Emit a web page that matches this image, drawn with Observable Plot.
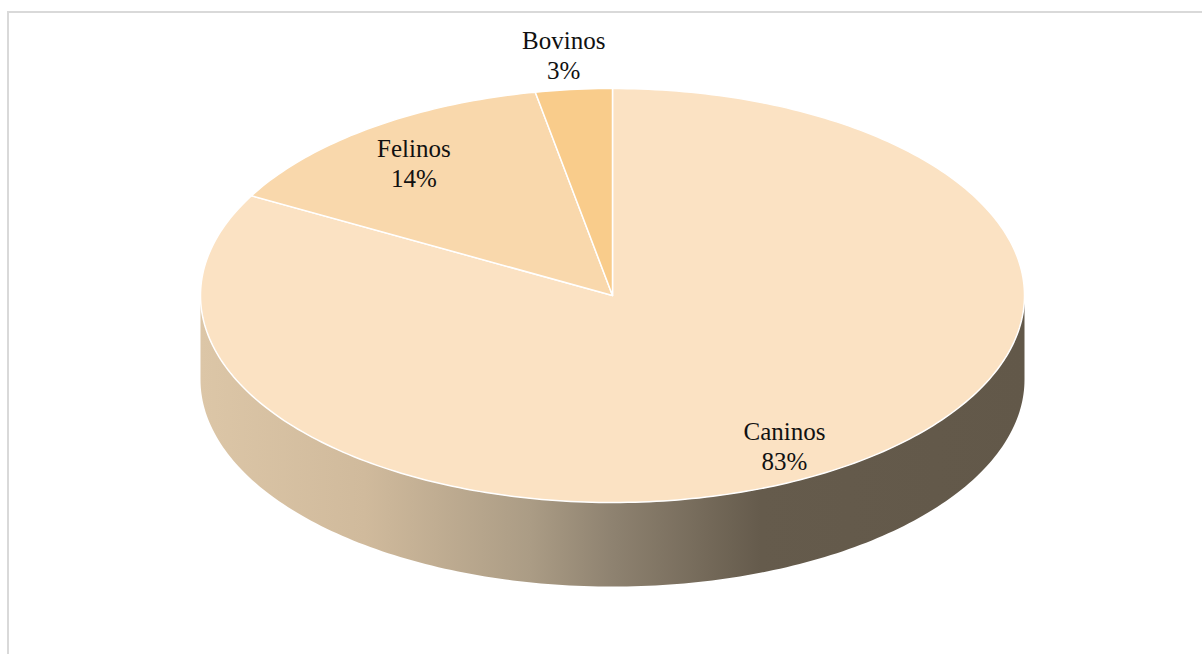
<!DOCTYPE html>
<html><head><meta charset="utf-8">
<script src="https://cdn.jsdelivr.net/npm/d3@7"></script>
<script src="https://cdn.jsdelivr.net/npm/@observablehq/plot@0.6"></script>
<style>
html,body{margin:0;padding:0;background:#fff;overflow:hidden;width:1202px;height:654px}
#frame{position:absolute;left:7px;top:11px;width:1300px;height:800px;border:2px solid #d9d9d9;box-sizing:border-box}
#chart{position:absolute;left:0;top:0}
#chart svg text, #chart svg tspan{font-family:"Liberation Serif","Times New Roman",serif !important;}
</style></head><body>
<div id="frame"></div><div id="chart"></div>
<script>
// ---- data ----
const categories = ["Caninos", "Felinos", "Bovinos"];
const shares = [83, 14, 3];
const shareLabels = ["83%", "14%", "3%"];
const sliceColors = ["#FBE2C3", "#F9D8AC", "#F9CC8B"];

// ---- geometry derived from data ----
const total = d3.sum(shares);
const depth = 0.406;          // pie thickness in y units (radius = 1)
const deg = Math.PI / 180;

const slices = [];
const sides = [];
const labelData = [];
let acc = 0;
categories.forEach((c, i) => {
  const a0 = acc / total * 2 * Math.PI;
  const a1 = (acc + shares[i]) / total * 2 * Math.PI;
  acc += shares[i];
  const n = Math.max(2, Math.ceil((a1 - a0) / deg));
  slices.push({cat: c, x: 0, y: 0});
  for (let k = 0; k <= n; k++) {
    const a = a0 + (a1 - a0) * k / n;
    slices.push({cat: c, x: Math.sin(a), y: -Math.cos(a)});
  }
  slices.push({cat: c, x: 0, y: 0});
  // visible front wall: angles between 90° and 270° (clockwise from top)
  const s0 = Math.max(a0, Math.PI / 2), s1 = Math.min(a1, 3 * Math.PI / 2);
  if (s1 > s0) {
    const m = Math.max(2, Math.ceil((s1 - s0) / deg));
    const top = [], bot = [];
    for (let k = 0; k <= m; k++) {
      const a = s0 + (s1 - s0) * k / m;
      top.push({cat: c, x: Math.sin(a), y: -Math.cos(a)});
      bot.push({cat: c, x: Math.sin(a), y: -Math.cos(a) + depth});
    }
    sides.push(...top, ...bot.reverse(), top[0]);
  }
  const mid = (a0 + a1) / 2;
  const outside = shares[i] / total < 0.05;
  const r = outside ? 1 : 0.82;
  labelData.push({cat: c, text: c + "\n" + shareLabels[i], x: Math.sin(mid) * r, y: -Math.cos(mid) * r, outside});
});

const font = "Liberation Serif";

const chart = Plot.plot({
  width: 1202,
  height: 654,
  margin: 0,
  x: {domain: [-1, 1], range: [200, 1024], axis: null},
  y: {domain: [-1, 1], range: [88, 502], axis: null},
  color: {domain: categories, range: sliceColors},
  marks: [
    Plot.line(sides, {x: "x", y: "y", z: "cat", fill: "url(#sideGrad)", stroke: "none", curve: "linear"}),
    Plot.line(slices, {x: "x", y: "y", z: "cat", fill: "cat", stroke: "white", strokeWidth: 1.5, curve: "linear"}),
    Plot.text(labelData.filter(d => !d.outside), {x: "x", y: "y", text: "text", fontSize: 25, fontFamily: font, fill: "#111", lineHeight: 1.2, lineAnchor: "middle", dy: 4}),
    Plot.text(labelData.filter(d => d.outside), {x: "x", y: "y", text: "text", fontSize: 25, fontFamily: font, fill: "#111", lineHeight: 1.2, lineAnchor: "bottom", dy: -10, dx: -10})
  ]
});

// gradient for the pie wall, spanning the pie's x extent
const xs = chart.scale("x");
const gx0 = xs.apply(-1), gx1 = xs.apply(1);
const ns = "http://www.w3.org/2000/svg";
const defs = document.createElementNS(ns, "defs");
const grad = document.createElementNS(ns, "linearGradient");
grad.setAttribute("id", "sideGrad");
grad.setAttribute("gradientUnits", "userSpaceOnUse");
grad.setAttribute("x1", gx0); grad.setAttribute("x2", gx1);
grad.setAttribute("y1", 0); grad.setAttribute("y2", 0);
[[0, "#DCC6A7"], [0.2, "#D0BA9C"], [0.4, "#AB9C85"], [0.5, "#8E8270"], [0.68, "#655B4C"], [1, "#625849"]].forEach(([o, c]) => {
  const s = document.createElementNS(ns, "stop");
  s.setAttribute("offset", o); s.setAttribute("stop-color", c);
  grad.appendChild(s);
});
defs.appendChild(grad);
chart.insertBefore(defs, chart.firstChild);
chart.style.background = "transparent";
document.getElementById("chart").appendChild(chart);
</script>
</body></html>
